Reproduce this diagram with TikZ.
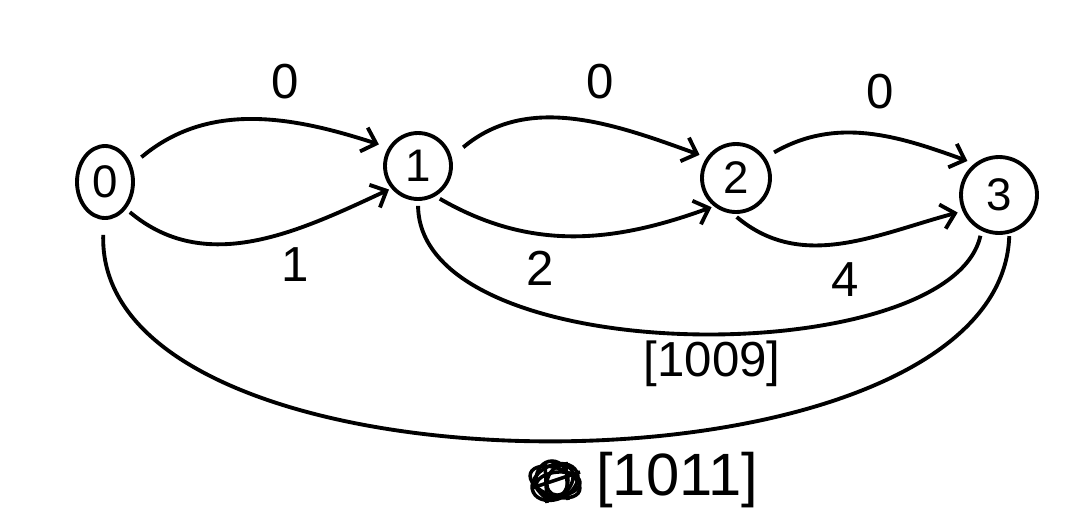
\documentclass[tikz,border=0pt]{standalone}
\usepackage{fontspec}
\setmainfont{Liberation Sans}
\usetikzlibrary{shapes.geometric,arrows.meta}
\begin{document}
\begin{tikzpicture}[x=0.02cm,y=-0.02cm,
  state/.style={draw,circle,line width=2.2pt,inner sep=0pt,font=\fontsize{26}{28}\selectfont},
  edge/.style={line width=2.2pt,-{Straight Barb[length=0.26cm,width=0.5cm,line width=2.2pt]}},
  plain/.style={line width=2.2pt},
  lbl/.style={font=\fontsize{28}{30}\selectfont,inner sep=0pt},
  blbl/.style={font=\fontsize{28}{30}\selectfont,inner sep=0pt}]
\useasboundingbox (0,0) rectangle (1071,528);
\node[state,ellipse,minimum width=1.12cm,minimum height=1.44cm] (n0) at (105,182) {0};
\node[state,minimum size=1.32cm] (n1) at (418,166) {1};
\node[state,minimum size=1.36cm] (n2) at (736,178) {2};
\node[state,minimum size=1.52cm] (n3) at (999,195) {3};
% top edges
\draw[edge,shorten <=0.25cm,shorten >=0.2cm] (n0.32) to[out=40,in=162] (n1.148);
\draw[edge,shorten <=0.3cm,shorten >=0.15cm] (n1.15) to[out=40,in=160] (n2.145);
\draw[edge,shorten <=0.2cm,shorten >=0.15cm] (n2.35) to[out=30,in=160] (n3.128);
% bottom edges
\draw[edge,shorten <=0.1cm,shorten >=0.05cm] (n0.-52) to[out=-40,in=205] (n1.-140);
\draw[edge,shorten <=0.1cm,shorten >=0.05cm] (n1.-60) to[out=-30,in=200] (n2.-128);
\draw[edge,shorten <=0.1cm,shorten >=0.1cm] (n2.-95) to[out=-40,in=195] (n3.204);
% long curves
\draw[plain,shorten <=0.1cm,shorten >=0.1cm] (n1.-90) .. controls (420,372) and (950,372) .. (n3.-116);
\draw[plain,shorten <=0.3cm,shorten >=0.05cm] (n0.-92) .. controls (95,510) and (1000,510) .. (n3.-75);
% labels
\node[lbl] (l1) at (285,82) {0};
\node[lbl] (l2) at (600,82) {0};
\node[lbl] (l3) at (880,92) {0};
\node[lbl] (l4) at (295,265) {1};
\node[lbl] (l5) at (540,268) {2};
\node[lbl] (l6) at (845,280) {4};
\node[blbl] (l7) at (712,364) {[1009]};
\node[blbl,font=\fontsize{34}{36}\selectfont] (l8) at (677,480) {[1011]};
% scribble
\begin{scope}[line width=2pt]
\draw (555,482) ellipse [x radius=26,y radius=14,rotate=-20];
\draw (555,482) ellipse [x radius=24,y radius=17,rotate=25];
\draw (558,484) ellipse [x radius=22,y radius=12,rotate=5];
\draw (552,480) ellipse [x radius=16,y radius=19];
\draw (560,480) ellipse [x radius=12,y radius=16,rotate=-30];
\draw (545,463) -- (547,503);
\draw (566,462) -- (568,500);
\draw (532,488) -- (580,472);
\end{scope}
\end{tikzpicture}
\end{document}
